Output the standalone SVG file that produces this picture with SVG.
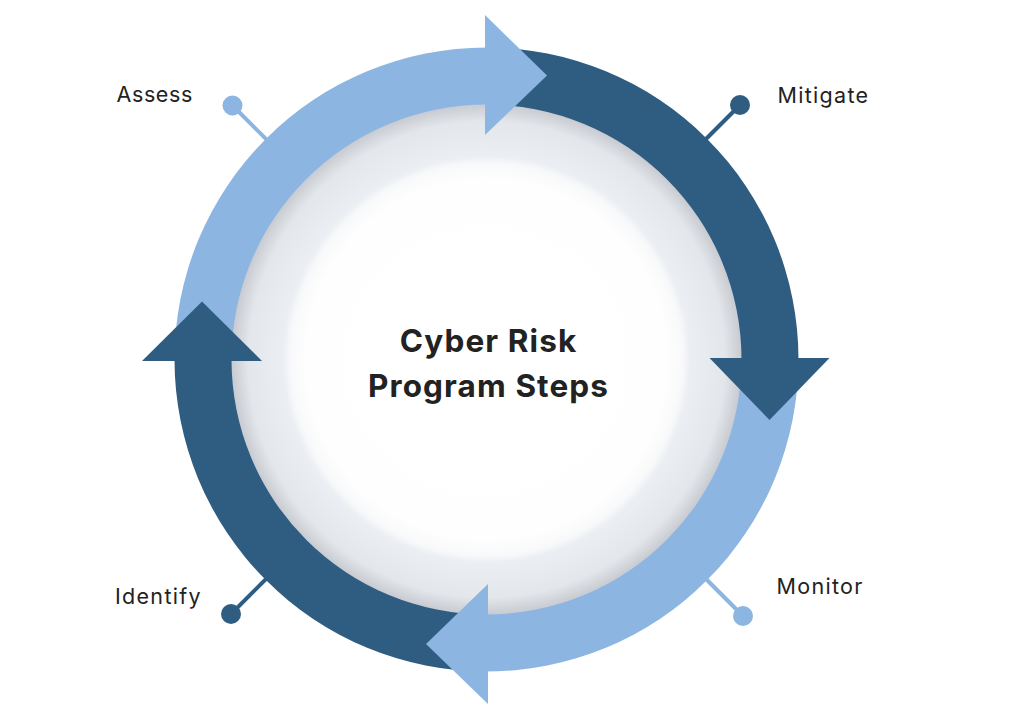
<svg xmlns="http://www.w3.org/2000/svg" width="1013" height="720" viewBox="0 0 1013 720">
  <style>
    .lbl { font-family: Inter, "Liberation Sans", sans-serif; font-size: 21.5px; fill: #222; letter-spacing: 1.3px; }
    .title { font-family: Inter, "Liberation Sans", sans-serif; font-size: 31.5px; font-weight: 700; fill: #222; text-anchor: middle; letter-spacing: 1.1px; }
    .light { fill: #8cb6e1; }
    .dark { fill: #2f5d82; }
    .pinL { stroke: #8cb6e1; stroke-width: 4; }
    .pinD { stroke: #2f5d82; stroke-width: 4; }
  </style>
  <defs>
    <radialGradient id="gOuter" cx="486.5" cy="359.5" r="256" gradientUnits="userSpaceOnUse">
      <stop offset="0.76" stop-color="#edf0f4"/>
      <stop offset="0.93" stop-color="#e3e6ea"/>
      <stop offset="1" stop-color="#c6cad0"/>
    </radialGradient>
    <radialGradient id="gInner" cx="486.5" cy="359.5" r="201" gradientUnits="userSpaceOnUse">
      <stop offset="0" stop-color="#ffffff"/>
      <stop offset="0.9" stop-color="#fefefe"/>
      <stop offset="1" stop-color="#f6f7f9"/>
    </radialGradient>
    <filter id="soft" x="-20%" y="-20%" width="140%" height="140%">
      <feGaussianBlur stdDeviation="2.5"/>
    </filter>
  </defs>
  <rect width="1013" height="720" fill="#ffffff"/>

  <g id="connectors">
    <line class="pinL" x1="232.5" y1="105.5" x2="290" y2="163"/>
    <line class="pinD" x1="740" y1="105" x2="683" y2="162"/>
    <line class="pinL" x1="743" y1="616" x2="686" y2="559"/>
    <line class="pinD" x1="231" y1="614" x2="288" y2="557"/>
  </g>

  <g id="center">
    <circle cx="486.5" cy="359.5" r="256" fill="url(#gOuter)"/>
    <circle cx="486.5" cy="359.5" r="200" fill="url(#gInner)" filter="url(#soft)"/>
    <text class="title" x="488.5" y="352">Cyber Risk</text>
    <text class="title" x="488.5" y="397">Program Steps</text>
  </g>

  <g id="ring">
    <path class="light" d="M174.5,359.5 A312,312 0 0 1 486.5,47.5 L486.5,104.5 A255,255 0 0 0 231.5,359.5 Z"/>
    <path class="dark" d="M486.5,47.5 A312,312 0 0 1 798.5,359.5 L741.5,359.5 A255,255 0 0 0 486.5,104.5 Z"/>
    <path class="light" d="M798.5,359.5 A312,312 0 0 1 486.5,671.5 L486.5,614.5 A255,255 0 0 0 741.5,359.5 Z"/>
    <path class="dark" d="M486.5,671.5 A312,312 0 0 1 174.5,359.5 L231.5,359.5 A255,255 0 0 0 486.5,614.5 Z"/>
  </g>

  <g id="assess">
    <polygon class="light" points="485,15 547,75.5 485,135"/>
    <circle class="light" cx="232.5" cy="105.5" r="10"/>
    <text class="lbl" x="116.5" y="101.5" style="letter-spacing:0.6px">Assess</text>
  </g>
  <g id="mitigate">
    <polygon class="dark" points="709.5,358 829.5,358 769.5,420"/>
    <circle class="dark" cx="740" cy="105" r="10"/>
    <text class="lbl" x="777.5" y="102.5">Mitigate</text>
  </g>
  <g id="monitor">
    <polygon class="light" points="488,584 488,704 426,644"/>
    <circle class="light" cx="743" cy="616" r="10"/>
    <text class="lbl" x="776.5" y="594">Monitor</text>
  </g>
  <g id="identify">
    <polygon class="dark" points="142,361 262,361 202,301.5"/>
    <circle class="dark" cx="231" cy="614" r="10"/>
    <text class="lbl" x="115" y="603.5">Identify</text>
  </g>
</svg>
